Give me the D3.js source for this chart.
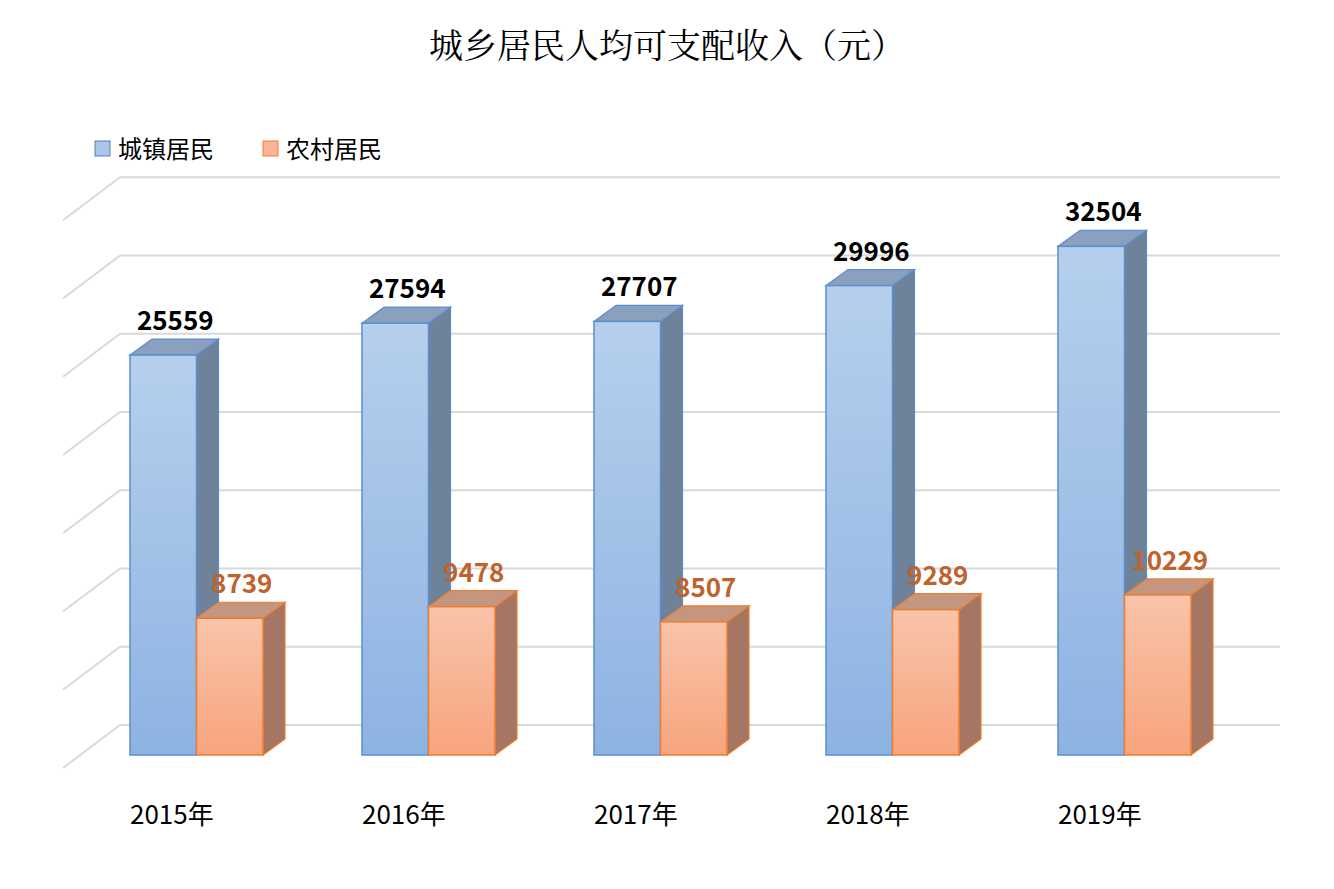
<!DOCTYPE html><html><head><meta charset="utf-8">
<script src="https://cdn.jsdelivr.net/npm/d3@7"></script>
<style>body{margin:0;background:#fff}</style></head><body>
<svg id="c" width="1334" height="889"></svg>
<script>
const categories=["2015年","2016年","2017年","2018年","2019年"];
const urban=[25559,27594,27707,29996,32504];
const rural=[8739,9478,8507,9289,10229];
const seriesNames=["城镇居民","农村居民"];
const gridTicks=[0,5000,10000,15000,20000,25000,30000,35000];
const font="'Noto Sans CJK SC','Noto Sans',sans-serif";
const svg=d3.select("#c");
const defs=svg.append("defs");
function grad(id,a,b){const g=defs.append("linearGradient").attr("id",id).attr("x1",0).attr("y1",0).attr("x2",0).attr("y2",1);
g.append("stop").attr("offset",0).attr("stop-color",a);g.append("stop").attr("offset",1).attr("stop-color",b);}
grad("gb","#b6cfed","#8db3e2");grad("go","#f9c4aa","#f7a47d");
const y=d3.scaleLinear().domain([0,35000]).range([755,207.3]);
const x=d3.scaleBand().domain(categories).range([130,1290]).paddingInner(0).paddingOuter(0);
const bw=66.5,dx=22,dy=-16;
// title
svg.append("text").attr("x",667).attr("y",58).attr("text-anchor","middle").attr("font-family","'Noto Serif CJK SC','Noto Sans CJK SC',serif").attr("font-size",34).text("城乡居民人均可支配收入（元）");
// grid
const gy=v=>y(v)-30;
gridTicks.forEach(t=>{
 svg.append("line").attr("x1",120).attr("x2",1280).attr("y1",gy(t)).attr("y2",gy(t)).attr("stroke","#d9d9d9").attr("stroke-width",2);
 svg.append("line").attr("x1",120).attr("x2",63).attr("y1",gy(t)).attr("y2",gy(t)+43).attr("stroke","#d9d9d9").attr("stroke-width",2);
});
// legend
[["#a9c6ea","#4f81bd"],["#f9b494","#ed7d31"]].forEach((c,i)=>{
 const lx=[95,263][i];
 svg.append("rect").attr("x",lx).attr("y",141).attr("width",15).attr("height",15).attr("fill",c[0]).attr("stroke",c[1]);
 svg.append("text").attr("x",lx+23).attr("y",158).attr("font-family",font).attr("font-size",24).text(seriesNames[i]);
});
function bar(x0,v,fill,stroke,side,top,label,lc){
 const yt=y(v),yb=y(0);
 svg.append("polygon").attr("points",[[x0+bw,yb],[x0+bw+dx,yb+dy],[x0+bw+dx,yt+dy],[x0+bw,yt]].join(" ")).attr("fill",side).attr("stroke",stroke).attr("stroke-width",1.2);
 svg.append("polygon").attr("points",[[x0,yt],[x0+dx,yt+dy],[x0+bw+dx,yt+dy],[x0+bw,yt]].join(" ")).attr("fill",top).attr("stroke",stroke).attr("stroke-width",1.2);
 svg.append("rect").attr("x",x0).attr("y",yt).attr("width",bw).attr("height",yb-yt).attr("fill",fill).attr("stroke",stroke).attr("stroke-width",1.5);
 svg.append("text").attr("x",x0+bw/2+12).attr("y",yt-25).attr("text-anchor","middle").attr("font-family",font).attr("font-weight","bold").attr("font-size",26).attr("fill",lc).text(label);
}
categories.forEach((c,i)=>{
 const x0=x(c);
 bar(x0,urban[i],"url(#gb)","#5b8ed0","#6e8299","#8aa0be",urban[i],"#000");
 bar(x0+bw,rural[i],"url(#go)","#ed7d31","#a57663","#c5967f",rural[i],"#c0622b");
 svg.append("text").attr("x",x0).attr("y",824).attr("font-family",font).attr("font-size",26).text(c);
});
</script></body></html>
